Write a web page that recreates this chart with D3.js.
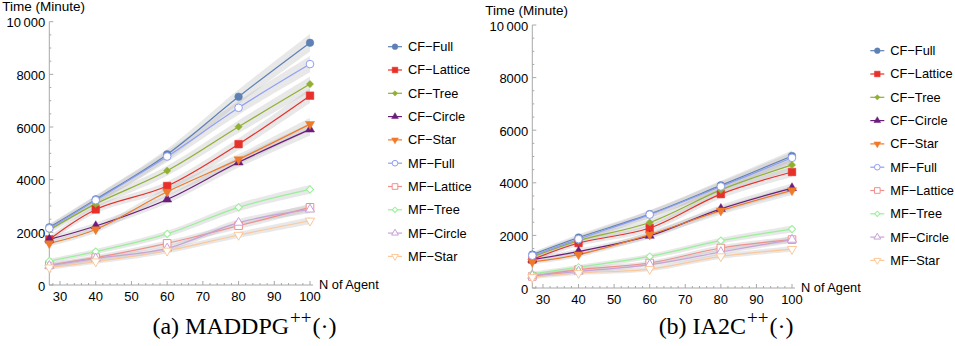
<!DOCTYPE html>
<html lang="en">
<head>
<meta charset="UTF-8">
<title>Training time vs number of agents</title>
<script src="https://d3js.org/d3.v7.min.js"></script>
<style>
    body { margin: 0; background: #fff; }
    text { font-family: "Liberation Sans", Arial, sans-serif; fill: #000; }
    .caption { font-family: "Liberation Serif", "Times New Roman", serif; }
</style>
</head>
<body>
<script>
// ---- data ----
const agents = [27, 40, 60, 80, 100];
const seriesNames = ["CF\u2212Full", "CF\u2212Lattice", "CF\u2212Tree", "CF\u2212Circle", "CF\u2212Star",
                     "MF\u2212Full", "MF\u2212Lattice", "MF\u2212Tree", "MF\u2212Circle", "MF\u2212Star"];
const yTicks = [0, 2000, 4000, 6000, 8000, 10000];
const xTicks = [30, 40, 50, 60, 70, 80, 90, 100];

// (a) MADDPG++
const maddpg = [
    [2190, 3250, 4960, 7150, 9200],
    [1730, 2870, 3760, 5350, 7190],
    [2090, 3080, 4340, 6010, 7630],
    [1730, 2240, 3250, 4660, 5910],
    [1580, 2110, 3540, 4770, 6110],
    [2150, 3220, 4880, 6730, 8390],
    [760, 1040, 1580, 2250, 2950],
    [910, 1270, 1940, 2950, 3630],
    [730, 1010, 1390, 2370, 2870],
    [660, 890, 1300, 1900, 2440]
];
// (b) IA2C++
const ia2c = [
    [1270, 1920, 2810, 3900, 5020],
    [1080, 1710, 2280, 3570, 4410],
    [1180, 1800, 2490, 3730, 4680],
    [1080, 1390, 1990, 3010, 3800],
    [990, 1270, 2030, 2940, 3710],
    [1230, 1860, 2790, 3860, 4950],
    [440, 700, 950, 1520, 1840],
    [540, 790, 1200, 1800, 2240],
    [470, 630, 890, 1370, 1840],
    [410, 570, 720, 1200, 1480]
];

const colors = ["#5e81b5", "#e8302a", "#8fb032", "#6b1d7b", "#ee7a2a",
                "#8f9ef5", "#f0908c", "#98f098", "#c8a2d8", "#fcc89a"];
const shapes = ["circle", "square", "diamond", "up", "down",
                "circle", "square", "diamond", "up", "down"];

const W = 955, H = 346;
const svg = d3.select("body").append("svg").attr("width", W).attr("height", H);

function markerPath(shape, big) {
    const k = big ? 1 : 0.55;
    switch (shape) {
        case "circle": return d3.symbol(d3.symbolCircle, 46 * k)();
        case "square": return d3.symbol(d3.symbolSquare, 58 * k)();
        case "diamond": return d3.symbol(d3.symbolSquare, 26 * k)();
        default: return d3.symbol(d3.symbolTriangle, 36 * k)();
    }
}

function drawMarker(g, i, x, y, big) {
    const open = i >= 5;
    let rot = "";
    if (shapes[i] === "down") rot = " rotate(180)";
    if (shapes[i] === "diamond") rot = " rotate(45)";
    g.append("path")
        .attr("d", markerPath(shapes[i], big))
        .attr("transform", `translate(${x},${y})` + rot)
        .attr("fill", open ? "#fff" : colors[i])
        .attr("stroke", colors[i])
        .attr("stroke-width", open ? 1 : 0.5);
}

function drawPanel(data, p) {
    const x = d3.scaleLinear().domain([27, 100]).range([p.x0, p.x1]);
    const y = d3.scaleLinear().domain([0, 10000]).range([p.y0, p.y1]);
    const g = svg.append("g");

    // confidence bands
    const band = d3.area()
        .x((d, j) => x(agents[j]))
        .y0(d => y(d - (0.03 * d + 60)))
        .y1(d => y(d + (0.03 * d + 60)))
        .curve(d3.curveCatmullRom);
    data.forEach(s => {
        g.append("path").attr("d", band(s))
            .attr("fill", "#b4b4b4").attr("fill-opacity", 0.3);
    });

    // axes
    const ax = "#a8a8a8";
    g.append("line").attr("x1", p.x0).attr("x2", x(100) + 3)
        .attr("y1", p.y0).attr("y2", p.y0).attr("stroke", ax);
    g.append("line").attr("x1", p.x0).attr("x2", p.x0)
        .attr("y1", p.y0).attr("y2", y(10000)).attr("stroke", ax);

    d3.range(28, 101, 2).forEach(v => {
        const major = v % 10 === 0;
        g.append("line").attr("x1", x(v)).attr("x2", x(v))
            .attr("y1", p.y0).attr("y2", p.y0 - (major ? 4 : 2)).attr("stroke", ax);
    });
    d3.range(0, 10001, 500).forEach(v => {
        const major = v % 2000 === 0;
        g.append("line").attr("x1", p.x0).attr("x2", p.x0 + (major ? 4 : 2))
            .attr("y1", y(v)).attr("y2", y(v)).attr("stroke", ax);
    });
    xTicks.forEach(v => {
        g.append("text").attr("x", x(v)).attr("y", p.y0 + 16)
            .attr("text-anchor", "middle").style("font-size", "13px").text(v);
    });
    yTicks.forEach(v => {
        g.append("text").attr("x", p.x0 - 4).attr("y", y(v) + 1).attr("dy", "0.35em")
            .attr("text-anchor", "end").style("font-size", "13px")
            .text(v === 10000 ? "10\u2009000" : v);
    });
    g.append("text").attr("x", p.x0 - 47).attr("y", p.y1 - 10.5)
        .style("font-size", "13.5px").text("Time (Minute)");
    g.append("text").attr("x", x(100) + 9).attr("y", p.y0 + 4)
        .style("font-size", "12.8px").text("N of Agent");

    // lines + markers
    const line = d3.line().x((d, j) => x(agents[j])).y(d => y(d)).curve(d3.curveCatmullRom);
    data.forEach((s, i) => {
        g.append("path").attr("d", line(s)).attr("fill", "none")
            .attr("stroke", colors[i]).attr("stroke-width", 1.2);
    });
    data.forEach((s, i) => {
        s.forEach((v, j) => drawMarker(g, i, x(agents[j]), y(v), true));
    });

    // legend
    seriesNames.forEach((name, i) => {
        const ly = p.ly + i * 23.3;
        g.append("line").attr("x1", p.lx - 7).attr("x2", p.lx + 7)
            .attr("y1", ly).attr("y2", ly).attr("stroke", colors[i]).attr("stroke-width", 1.2);
        drawMarker(g, i, p.lx, ly, false);
        g.append("text").attr("x", p.lx + 13).attr("y", ly).attr("dy", "0.35em")
            .style("font-size", "12.8px").text(name);
    });

    // caption
    const c = svg.append("text").attr("class", "caption")
        .attr("x", p.cx).attr("y", 334).attr("text-anchor", "middle")
        .style("font-size", "24px");
    c.append("tspan").text(p.cap);
    c.append("tspan").attr("dy", -10).attr("dx", 1).style("font-size", "19px").text("++");
    c.append("tspan").attr("dy", 10).attr("dx", 1).text("(\u00b7)");
}

drawPanel(maddpg, { x0: 49.3, x1: 310, y0: 285, y1: 21.7, lx: 395, ly: 46.7, cx: 244.5, cap: "(a) MADDPG" });
drawPanel(ia2c, { x0: 532.3, x1: 792, y0: 288, y1: 25, lx: 877.3, ly: 50.7, cx: 726, cap: "(b) IA2C" });
</script>
</body>
</html>
